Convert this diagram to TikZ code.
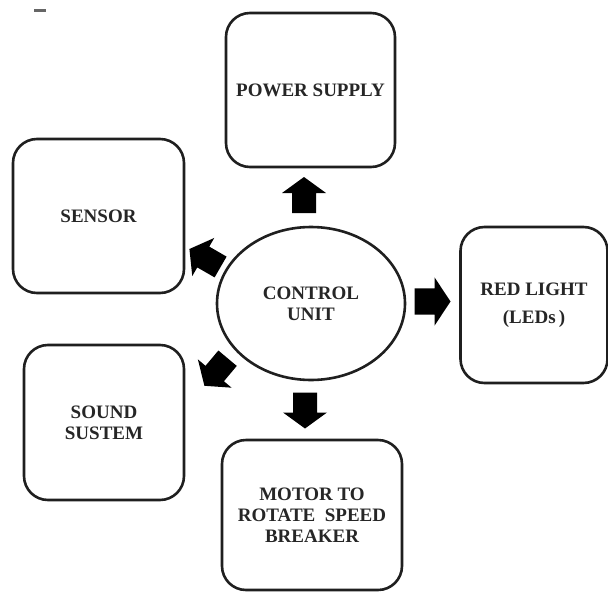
\documentclass[tikz,border=0pt]{standalone}
\usepackage{fontspec}
\setmainfont{Liberation Serif}
\usetikzlibrary{shapes.geometric}
\begin{document}
\begin{tikzpicture}[x=1pt,y=-1pt,
  box/.style={draw=black!88, line width=2.6pt, rounded corners=24pt, inner sep=2pt},
  lbl/.style={font=\fontsize{19}{21}\selectfont\bfseries, text=black!85, align=center},
  pics/barr/.style={code={\fill[black] (-18,-12) -- (2,-12) -- (2,-22) -- (18,0) -- (2,22) -- (2,12) -- (-18,12) -- cycle;}}
]
\useasboundingbox (0,0) rectangle (608,592);
\fill[white] (0,0) rectangle (608,592);
% small mark top-left
\fill[black!60] (34,8.5) rectangle (46,11.5);

\node[box, lbl, minimum width=169pt, minimum height=154pt] (ps) at (310.5,90) {POWER SUPPLY};
\node[box, lbl, minimum width=171pt, minimum height=154pt] (sen) at (98.5,216) {SENSOR};
\node[box, lbl, minimum width=160pt, minimum height=155pt] (snd) at (104,422.5) {SOUND\\SUSTEM};
\node[box, lbl, minimum width=147pt, minimum height=156pt, font=\fontsize{19}{28}\selectfont\bfseries] (red) at (534,305) {RED LIGHT\\(LEDs\,)};
\node[box, lbl, minimum width=180pt, minimum height=150pt] (mot) at (312,515) {MOTOR TO\\ROTATE~ SPEED\\BREAKER};
\node[ellipse, draw=black!88, line width=2.6pt, lbl, minimum width=188pt, minimum height=153pt, inner sep=0pt] (cu) at (311,303.5) {CONTROL\\UNIT};

\pic[rotate=90] at (304,195) {barr};
\pic[rotate=-90] at (305,410.5) {barr};
\pic[yscale=1.1] at (432.5,301.5) {barr};
\pic[rotate=150] at (205,258) {barr};
\pic[rotate=230] at (216,372) {barr};
\end{tikzpicture}
\end{document}
